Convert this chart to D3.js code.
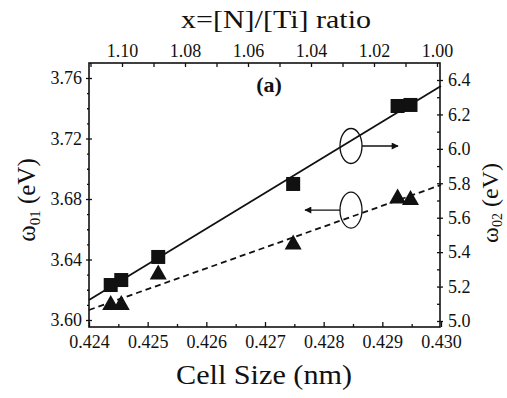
<!DOCTYPE html>
<html>
<head>
<meta charset="utf-8">
<script src="https://cdn.jsdelivr.net/npm/d3@7"></script>
<style>
  body { margin: 0; background: #fff; }
  svg text { fill: #111; }
  .tick line { stroke: #111; stroke-width: 1.3; }
</style>
</head>
<body>
<script>
// data
var cellSize = [0.42437, 0.42455, 0.42518, 0.42748, 0.42926, 0.42948];   // nm
var omega02  = [5.209, 5.238, 5.372, 5.796, 6.249, 6.255];               // squares, right axis (eV)
var omega01  = [3.6116, 3.6116, 3.6317, 3.6516, 3.682, 3.681];           // triangles, left axis (eV)

// fitted lines, end points read at the frame edges
var fitSolidX = [0.424, 0.430], fitSolidY = [5.122, 6.365];   // right axis
var fitDashX  = [0.424, 0.430], fitDashY  = [3.6066, 3.6893]; // left axis

// tick values
var xTicks = [0.424, 0.425, 0.426, 0.427, 0.428, 0.429, 0.430];
var xMinor = [0.4245, 0.4255, 0.4265, 0.4275, 0.4285, 0.4295];
var topTicks = [1.10, 1.08, 1.06, 1.04, 1.02, 1.00];
var topMinor = [1.11, 1.09, 1.07, 1.05, 1.03, 1.01];
var leftTicks = [3.60, 3.64, 3.68, 3.72, 3.76];
var leftMinor = [3.61, 3.62, 3.63, 3.65, 3.66, 3.67, 3.69, 3.70, 3.71, 3.73, 3.74, 3.75];
var rightTicks = [5.0, 5.2, 5.4, 5.6, 5.8, 6.0, 6.2, 6.4];
var rightMinor = [5.1, 5.3, 5.5, 5.7, 5.9, 6.1, 6.3];

//Define frame
var box = {left: 89, right: 440, top: 63, bottom: 327};
var serif = "'Liberation Serif', 'DejaVu Serif', 'Noto Serif', Times, serif";

var svg = d3.select("body").append("svg")
    .attr("width", 507)
    .attr("height", 398)
    .style("font-family", serif);

//Define Scales
var x = d3.scaleLinear().domain([0.424, 0.430]).range([89, 441]);
var xTop = d3.scaleLinear().domain([1.10, 1.00]).range([122, 437]);
var yL = d3.scaleLinear().domain([3.60, 3.76]).range([320, 78]);
var yR = d3.scaleLinear().domain([5.0, 6.4]).range([321, 80]);

// axes: ticks cross the frame on the sides, point inward on top/bottom
function clean(g) {
    g.attr("font-family", null).attr("font-size", null)
        .style("font-family", serif).style("font-size", "18px");
    g.select(".domain").remove();
}

svg.append("g").attr("transform", "translate(0," + box.bottom + ")")
    .call(d3.axisBottom(x).tickValues(xTicks).tickSize(0).tickPadding(8).tickFormat(d3.format(".3f")))
    .call(clean);
svg.append("g").attr("transform", "translate(0," + box.bottom + ")")
    .call(d3.axisTop(x).tickValues(xTicks).tickSize(5).tickFormat(""))
    .call(clean);
svg.append("g").attr("transform", "translate(0," + box.bottom + ")")
    .call(d3.axisTop(x).tickValues(xMinor).tickSize(3).tickFormat(""))
    .call(clean);

svg.append("g").attr("transform", "translate(0," + box.top + ")")
    .call(d3.axisTop(xTop).tickValues(topTicks).tickSize(0).tickPadding(6).tickFormat(d3.format(".2f")))
    .call(clean);
svg.append("g").attr("transform", "translate(0," + box.top + ")")
    .call(d3.axisBottom(xTop).tickValues(topTicks.concat(topMinor)).tickSize(4).tickFormat(""))
    .call(clean);

svg.append("g").attr("transform", "translate(" + box.left + ",0)")
    .call(d3.axisLeft(yL).tickValues(leftTicks).tickSize(3).tickPadding(4).tickFormat(d3.format(".2f")))
    .call(clean);
svg.append("g").attr("transform", "translate(" + box.left + ",0)")
    .call(d3.axisRight(yL).tickValues(leftTicks).tickSize(3).tickFormat(""))
    .call(clean);
svg.append("g").attr("transform", "translate(" + box.left + ",0)")
    .call(d3.axisLeft(yL).tickValues(leftMinor).tickSize(2).tickFormat(""))
    .call(clean);

svg.append("g").attr("transform", "translate(" + box.right + ",0)")
    .call(d3.axisRight(yR).tickValues(rightTicks).tickSize(3).tickPadding(5).tickFormat(d3.format(".1f")))
    .call(clean);
svg.append("g").attr("transform", "translate(" + box.right + ",0)")
    .call(d3.axisLeft(yR).tickValues(rightTicks).tickSize(3).tickFormat(""))
    .call(clean);
svg.append("g").attr("transform", "translate(" + box.right + ",0)")
    .call(d3.axisLeft(yR).tickValues(rightMinor).tickSize(3).tickFormat(""))
    .call(clean);

// frame
svg.append("rect")
    .attr("x", box.left).attr("y", box.top)
    .attr("width", box.right - box.left).attr("height", box.bottom - box.top)
    .attr("fill", "none").attr("stroke", "#111").attr("stroke-width", 1.6);

// fit lines
var line = d3.line();
svg.append("path")
    .attr("d", line(fitSolidX.map(function(d, i) { return [x(d), yR(fitSolidY[i])]; })))
    .attr("stroke", "#111").attr("stroke-width", 1.8).attr("fill", "none");
svg.append("path")
    .attr("d", line(fitDashX.map(function(d, i) { return [x(d), yL(fitDashY[i])]; })))
    .attr("stroke", "#111").attr("stroke-width", 1.8).attr("stroke-dasharray", "6,4").attr("fill", "none");

// squares (omega02)
svg.selectAll(".sq")
    .data(cellSize)
    .enter().append("rect")
    .attr("class", "sq")
    .attr("x", function(d) { return x(d) - 7; })
    .attr("y", function(d, i) { return yR(omega02[i]) - 7; })
    .attr("width", 14).attr("height", 14)
    .attr("fill", "#111");

// triangles (omega01)
svg.selectAll(".tri")
    .data(cellSize)
    .enter().append("path")
    .attr("class", "tri")
    .attr("transform", function(d, i) { return "translate(" + x(d) + "," + yL(omega01[i]) + ")"; })
    .attr("d", "M0,-7.5L8.5,7.5L-8.5,7.5Z")
    .attr("fill", "#111");

// ellipses with arrows pointing to the matching axis
var defs = svg.append("defs");
defs.append("marker")
    .attr("id", "head")
    .attr("viewBox", "0 0 10 10")
    .attr("refX", 9).attr("refY", 5)
    .attr("markerWidth", 8).attr("markerHeight", 7)
    .attr("markerUnits", "userSpaceOnUse")
    .attr("orient", "auto")
    .append("path").attr("d", "M0,0L10,5L0,10Z").attr("fill", "#111");

var ellX = 0.428466, ellTopY = 6.0165, ellBotY = 3.6727;
svg.append("ellipse")
    .attr("cx", x(ellX)).attr("cy", yR(ellTopY))
    .attr("rx", 11).attr("ry", 17.5)
    .attr("fill", "none").attr("stroke", "#111").attr("stroke-width", 1.3);
svg.append("line")
    .attr("x1", x(ellX) + 11).attr("y1", yR(ellTopY))
    .attr("x2", x(0.429267)).attr("y2", yR(ellTopY))
    .attr("stroke", "#111").attr("stroke-width", 1.3)
    .attr("marker-end", "url(#head)");
svg.append("ellipse")
    .attr("cx", x(ellX)).attr("cy", yL(ellBotY))
    .attr("rx", 11).attr("ry", 18)
    .attr("fill", "none").attr("stroke", "#111").attr("stroke-width", 1.3);
svg.append("line")
    .attr("x1", x(ellX) - 11).attr("y1", yL(ellBotY))
    .attr("x2", x(0.427682)).attr("y2", yL(ellBotY))
    .attr("stroke", "#111").attr("stroke-width", 1.3)
    .attr("marker-end", "url(#head)");

// labels
svg.append("text")
    .attr("x", 269).attr("y", 92)
    .style("text-anchor", "middle")
    .style("font-size", "22px").style("font-weight", "bold")
    .text("(a)");

svg.append("text")
    .attr("x", 276).attr("y", 28)
    .style("text-anchor", "middle")
    .style("font-size", "25px")
    .attr("textLength", 190).attr("lengthAdjust", "spacingAndGlyphs")
    .text("x=[N]/[Ti] ratio");

svg.append("text")
    .attr("x", 264).attr("y", 384)
    .style("text-anchor", "middle")
    .style("font-size", "27px")
    .attr("textLength", 176).attr("lengthAdjust", "spacingAndGlyphs")
    .text("Cell Size (nm)");

var yl = svg.append("text")
    .attr("transform", "translate(35,200) rotate(-90)")
    .style("text-anchor", "middle")
    .style("font-size", "25px");
yl.append("tspan").text("ω");
yl.append("tspan").attr("dy", 5).style("font-size", "15px").text("01");
yl.append("tspan").attr("dy", -5).text(" (eV)");

var yr = svg.append("text")
    .attr("transform", "translate(498,203) rotate(-90)")
    .style("text-anchor", "middle")
    .style("font-size", "24px");
yr.append("tspan").text("ω");
yr.append("tspan").attr("dy", 4).style("font-size", "14px").text("02");
yr.append("tspan").attr("dy", -4).text(" (eV)");
</script>
</body>
</html>
